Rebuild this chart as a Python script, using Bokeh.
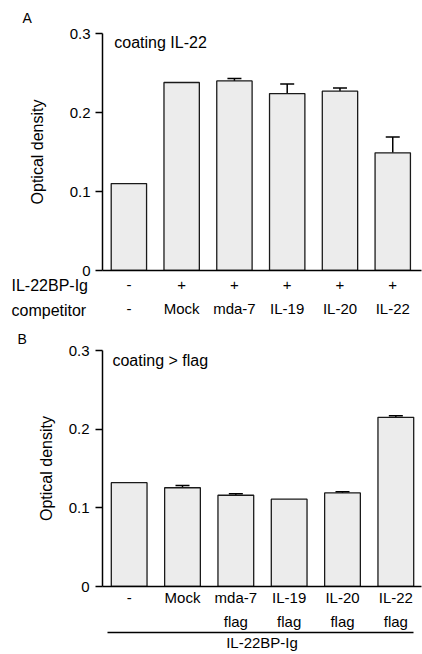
from bokeh.plotting import figure
from bokeh.models import (Range1d, FixedTicker, LinearAxis, Label, Whisker, TeeHead,
                          ColumnDataSource, Title)
from bokeh.layouts import column
from bokeh.embed import file_html
from bokeh.resources import INLINE

FONT = "Liberation Sans"
FS = "15px"

# ---- data ----
a_binder = ["-", "+", "+", "+", "+", "+"]
a_competitor = ["-", "Mock", "mda-7", "IL-19", "IL-20", "IL-22"]
a_od = [0.110, 0.238, 0.240, 0.224, 0.227, 0.149]
a_err = [0.0, 0.0, 0.003, 0.012, 0.004, 0.020]
a_row_names = ["IL-22BP-Ig", "competitor"]

b_line1 = ["-", "Mock", "mda-7", "IL-19", "IL-20", "IL-22"]
b_line2 = ["", "", "flag", "flag", "flag", "flag"]
b_od = [0.132, 0.1255, 0.116, 0.111, 0.119, 0.215]
b_err = [0.0, 0.003, 0.002, 0.0, 0.0015, 0.002]
b_group = "IL-22BP-Ig"

y_ticks = [0, 0.1, 0.2, 0.3]
y_tick_labels = ["0", "0.1", "0.2", "0.3"]

BAR_FILL = "#ececec"


def style_y(p, label_standoff, axis_label_standoff):
    ax = p.yaxis[0]
    ax.ticker = FixedTicker(ticks=y_ticks)
    ax.major_label_overrides = {t: l for t, l in zip(y_ticks, y_tick_labels)}
    ax.bounds = (y_ticks[0], y_ticks[-1])
    ax.axis_line_width = 1.5
    ax.axis_line_color = "black"
    ax.major_tick_out = 7
    ax.major_tick_in = 0
    ax.major_tick_line_width = 1.5
    ax.major_tick_line_color = "black"
    ax.minor_tick_line_color = None
    ax.major_label_standoff = label_standoff
    ax.major_label_text_font = FONT
    ax.major_label_text_font_size = FS
    ax.major_label_text_color = "black"
    ax.axis_label = "Optical density"
    ax.axis_label_standoff = axis_label_standoff
    ax.axis_label_text_font = FONT
    ax.axis_label_text_font_size = "16px"
    ax.axis_label_text_font_style = "normal"
    ax.axis_label_text_color = "black"


def style_x(ax, labels, standoff, line=True):
    n = len(labels)
    ax.ticker = FixedTicker(ticks=list(range(n)))
    ax.major_label_overrides = {i: l for i, l in enumerate(labels)}
    ax.major_tick_out = 0
    ax.major_tick_in = 0
    ax.major_tick_line_color = None
    ax.minor_tick_line_color = None
    ax.major_label_standoff = standoff
    ax.major_label_text_font = FONT
    ax.major_label_text_font_size = FS
    ax.major_label_text_color = "black"
    if line:
        ax.axis_line_width = 1.5
        ax.axis_line_color = "black"
    else:
        ax.axis_line_color = None


def bars(p, vals, errs):
    xs = list(range(len(vals)))
    p.vbar(x=xs, top=vals, bottom=0, width=0.67, fill_color=BAR_FILL,
           line_color="#1a1a1a", line_width=1.3)
    ex = [x for x, e in zip(xs, errs) if e > 0]
    lo = [v for v, e in zip(vals, errs) if e > 0]
    up = [v + e for v, e in zip(vals, errs) if e > 0]
    src = ColumnDataSource(dict(base=ex, lower=lo, upper=up))
    w = Whisker(source=src, base="base", lower="lower", upper="upper",
                line_color="black", line_width=1.5,
                upper_head=TeeHead(size=14, line_color="black", line_width=1.5),
                lower_head=None)
    p.add_layout(w)


def lbl(p, x, y, text, size=FS):
    p.add_layout(Label(x=x, y=y, text=text, text_font=FONT, text_font_size=size,
                       text_align="left", text_baseline="middle", text_color="black"))


def side_title(p, text, side, offset, standoff, valign, size=FS):
    t = Title(text=text, align="left", offset=offset, standoff=standoff,
              vertical_align=valign, text_font=FONT, text_font_size=size,
              text_font_style="normal", text_color="black")
    p.add_layout(t, side)


# ---------------- Panel A ----------------
A_LEFT, A_TOP, A_FH, A_BOT = 97, 33, 237, 52
A_FW = 422 - A_LEFT - 1
a_x0, a_x1 = -0.5, -0.5 + A_FW / 53.6
pa = figure(width=422, height=A_TOP + A_FH + A_BOT, output_backend="svg", toolbar_location=None,
            x_range=Range1d(a_x0, a_x1), y_range=Range1d(0, 0.3),
            min_border_left=A_LEFT, min_border_right=1, min_border_top=A_TOP,
            min_border_bottom=A_BOT)
pa.outline_line_color = None
pa.grid.visible = False
style_y(pa, 5, 21)
style_x(pa.xaxis[0], a_binder, 9)
ax2 = LinearAxis()
style_x(ax2, a_competitor, 7, line=False)
pa.add_layout(ax2, "below")
bars(pa, a_od, a_err)
side_title(pa, "A", "above", -80, 14, "middle", size="14px")
# row names sit left of the tick-label rows (pulled up into the axis bands)
H = 18
side_title(pa, a_row_names[0], "below", -91, -2 * (H + 7 + H), "top", size="16px")
side_title(pa, a_row_names[1], "below", -91, -2 * H, "top", size="16px")

pxa = (a_x1 - a_x0) / A_FW
pya = 0.3 / A_FH
lbl(pa, a_x0 + 12 * pxa, 0.3 - 9 * pya, "coating IL-22", size="16px")

# ---------------- Panel B ----------------
B_LEFT, B_TOP, B_FH, B_BOT = 102, 28, 236, 67
B_FW = 422 - B_LEFT
b_x0, b_x1 = -0.5, -0.5 + B_FW / 53.5
pb = figure(width=422, height=B_TOP + B_FH + B_BOT, output_backend="svg", toolbar_location=None,
            x_range=Range1d(b_x0, b_x1), y_range=Range1d(0, 0.3),
            min_border_left=B_LEFT, min_border_right=0, min_border_top=B_TOP,
            min_border_bottom=B_BOT)
pb.outline_line_color = None
pb.grid.visible = False
style_y(pb, 6, 11)
style_x(pb.xaxis[0], b_line1, 2)
bx2 = LinearAxis()
style_x(bx2, b_line2, 4, line=False)
pb.add_layout(bx2, "below")
bx3 = LinearAxis(ticker=FixedTicker(ticks=[]))
bx3.axis_line_width = 1.5
bx3.axis_line_color = "black"
bx3.major_tick_out = 0
bx3.major_tick_in = 0
bx3.minor_tick_line_color = None
bx3.major_label_standoff = 0
bx3.bounds = (b_x0 + 5 / 53.5, b_x0 + 312 / 53.5)
bx3.axis_label = b_group
bx3.axis_label_standoff = 1
bx3.axis_label_text_font = FONT
bx3.axis_label_text_font_size = "15px"
bx3.axis_label_text_font_style = "normal"
bx3.axis_label_text_color = "black"
pb.add_layout(bx3, "below")
bars(pb, b_od, b_err)
side_title(pb, "B", "above", -85, 6, "middle", size="14px")

pxb = (b_x1 - b_x0) / B_FW
pyb = 0.3 / B_FH
lbl(pb, b_x0 + 10 * pxb, 0.3 - 10 * pyb, "coating > flag", size="16px")

layout = column(pa, pb, spacing=0)
open("out.html", "w").write(file_html(layout, INLINE))
